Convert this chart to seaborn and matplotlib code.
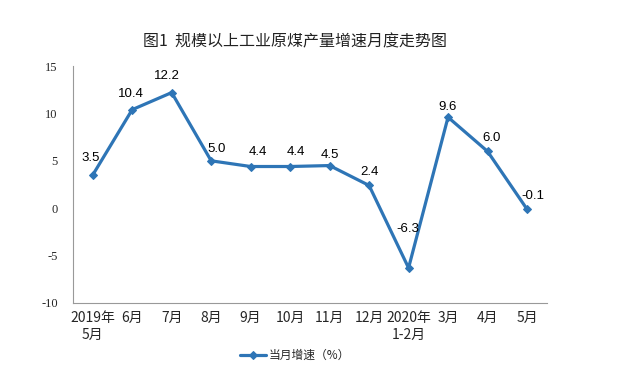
import matplotlib
matplotlib.use("Agg")
import matplotlib.pyplot as plt
import pandas as pd
import seaborn as sns

months = ["2019年\n5月", "6月", "7月", "8月", "9月", "10月", "11月", "12月",
          "2020年\n1-2月", "3月", "4月", "5月"]
growth = [3.5, 10.4, 12.2, 5.0, 4.4, 4.4, 4.5, 2.4, -6.3, 9.6, 6.0, -0.1]
# label offsets from each point, in pixels (dx, dy)
label_offsets = [(-2, 17), (-1, 16), (-5, 17), (5, 12), (7, 15), (6, 15), (0, 11),
                 (0, 13), (-1, 39), (0, 10), (4, 13), (6, 13)]

sns.set_style("white")
plt.rcParams["font.family"] = ["Noto Sans CJK SC", "DejaVu Sans"]

df = pd.DataFrame({"idx": range(len(months)), "growth": growth})
blue = "#2E75B6"

fig = plt.figure(figsize=(6.27, 3.84), dpi=100)
ax = fig.add_axes([0.1164, 0.211, 0.872 - 0.1164, 0.828 - 0.211])
sns.lineplot(data=df, x="idx", y="growth", ax=ax, color=blue, linewidth=2.3,
             marker="D", markersize=4.2, markeredgecolor=blue,
             label="当月增速（%）", legend=False)

for i, v in enumerate(growth):
    dx, dy = label_offsets[i]
    ax.annotate(f"{v:.1f}", (i, v), xytext=(dx, dy), textcoords="offset pixels",
                ha="center", va="center", fontsize=9.5,
                family=["Liberation Sans", "DejaVu Sans"], color="black")

ax.set_xlim(-0.5, len(months) - 0.5)
ax.set_ylim(-10, 15)
ax.set_yticks(range(-10, 16, 5))
ax.set_yticklabels([str(t) for t in range(-10, 16, 5)],
                   family="Liberation Serif", fontsize=9)
ax.set_xticks(range(len(months)))
ax.set_xticklabels(months, fontsize=7, linespacing=1.15, color="#333333")
ax.set_xticks([i - 0.5 for i in range(len(months) + 1)], minor=True)
ax.tick_params(axis="x", which="major", length=0, pad=6)
ax.tick_params(axis="x", which="minor", length=3, direction="in", color="#999999")
ax.tick_params(axis="y", length=3, direction="out", color="#999999", pad=8)
ax.set_xlabel("")
ax.set_ylabel("")

for side in ["top", "right"]:
    ax.spines[side].set_visible(False)
ax.spines["left"].set_color("#999999")
ax.spines["bottom"].set_color("#999999")
ax.spines["bottom"].set_position(("data", -10))

handles, labels = ax.get_legend_handles_labels()
fig.legend(handles, labels, loc="center", bbox_to_anchor=(0.47, 0.075),
           frameon=False, fontsize=8.5, handlelength=2.2, handletextpad=0.2)

fig.text(0.47, 0.89, "图1  规模以上工业原煤产量增速月度走势图", ha="center", va="center",
         fontsize=11.5, color="#222222")

fig.savefig("out.png", dpi=100)
